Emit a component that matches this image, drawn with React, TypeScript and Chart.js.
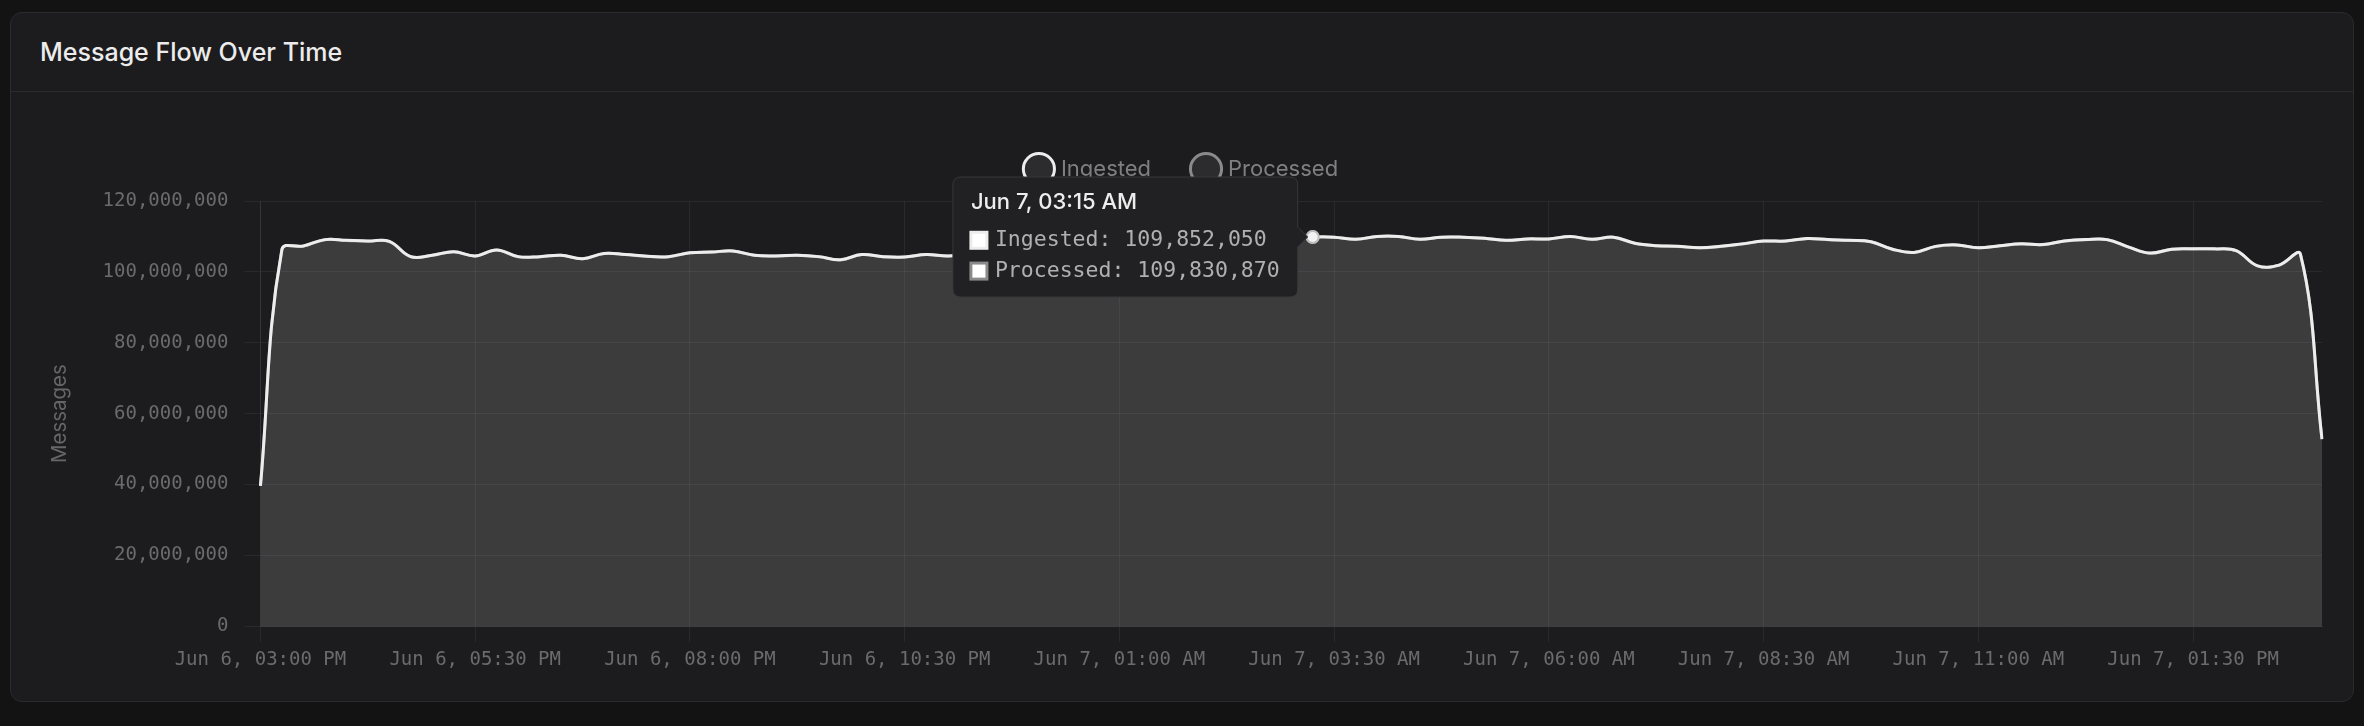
import React, { useEffect, useRef } from 'react';
import { Chart, registerables } from 'chart.js';

Chart.register(...registerables);

// ---- Data ----
const SERIES_LABELS = ['Ingested', 'Processed'];
const START_DAY = 6; // Jun 6
const START_MINUTES = 15 * 60; // 03:00 PM
const STEP_MINUTES = 15;
const X_LABEL_EVERY = 10;
const ACTIVE_INDEX = 49;
const UNIT = 1_000_000;

// values in millions of messages
const INGESTED_M = [
  39.6, 106.3, 107.3, 109.1, 108.9, 108.7, 108.6, 104.3, 104.7, 105.7,
  104.5, 106.2, 104.3, 104.3, 104.7, 103.7, 105.2, 104.9, 104.4, 104.3,
  105.4, 105.6, 105.9, 104.7, 104.5, 104.7, 104.3, 103.4, 104.9, 104.3,
  104.2, 104.9, 104.5, 105.0, 104.6, 105.3, 105.8, 106.4, 106.0, 107.1,
  107.6, 107.2, 108.3, 108.8, 108.4, 109.2, 109.5, 109.1, 109.7, 109.85205,
  109.8, 109.2, 110.0, 110.0, 109.2, 109.8, 109.8, 109.5, 108.9, 109.3,
  109.3, 110.0, 109.2, 109.8, 108.1, 107.4, 107.2, 106.8, 107.2, 107.9,
  108.7, 108.7, 109.4, 109.1, 108.9, 108.5, 106.4, 105.5, 107.2, 107.6,
  106.8, 107.4, 107.9, 107.7, 108.7, 109.1, 109.1, 107.0, 105.3, 106.4,
  106.5, 106.5, 106.0, 101.7, 101.9, 104.9, 52.8,
];

const PROCESSED_M = [
  39.58, 106.28, 107.27, 109.08, 108.88, 108.67, 108.58, 104.28, 104.68, 105.67,
  104.48, 106.18, 104.27, 104.28, 104.68, 103.68, 105.17, 104.88, 104.38, 104.27,
  105.38, 105.58, 105.87, 104.68, 104.48, 104.67, 104.28, 103.38, 104.88, 104.27,
  104.18, 104.88, 104.47, 104.98, 104.58, 105.28, 105.78, 106.38, 105.98, 107.08,
  107.58, 107.18, 108.27, 108.78, 108.38, 109.18, 109.48, 109.08, 109.68, 109.83087,
  109.78, 109.18, 109.98, 109.97, 109.18, 109.78, 109.77, 109.48, 108.88, 109.28,
  109.27, 109.98, 109.18, 109.77, 108.08, 107.38, 107.18, 106.78, 107.17, 107.88,
  108.68, 108.67, 109.38, 109.08, 108.88, 108.48, 106.38, 105.48, 107.18, 107.58,
  106.78, 107.38, 107.88, 107.68, 108.68, 109.08, 109.07, 106.98, 105.28, 106.38,
  106.48, 106.47, 105.98, 101.68, 101.88, 104.88, 52.78,
];

const Y_MIN = 0;
const Y_MAX = 120_000_000;
const Y_STEP = 20_000_000;

const pad2 = (n: number) => (n < 10 ? '0' + n : String(n));
function formatLabel(i: number): string {
  const total = START_MINUTES + i * STEP_MINUTES;
  const day = START_DAY + Math.floor(total / 1440);
  const m = total % 1440;
  const h24 = Math.floor(m / 60);
  const mm = m % 60;
  const ampm = h24 < 12 ? 'AM' : 'PM';
  const h12 = h24 % 12 === 0 ? 12 : h24 % 12;
  return `Jun ${day}, ${pad2(h12)}:${pad2(mm)} ${ampm}`;
}
const LABELS: string[] = INGESTED_M.map((_, i) => formatLabel(i));

// ---- Styles ----
const MONO = "'DejaVu Sans Mono', monospace";
const SANS = "Inter, 'Noto Sans', sans-serif";
const GRID = 'rgba(255,255,255,0.06)';

export default function App() {
  const canvasRef = useRef<HTMLCanvasElement | null>(null);

  useEffect(() => {
    const canvas = canvasRef.current;
    if (!canvas) return;

    const legendSpacer = {
      id: 'legendSpacer',
      beforeLayout(chart: any) {
        const lg = chart.legend;
        if (lg && !lg.__patched) {
          const orig = lg.fit.bind(lg);
          lg.fit = function () {
            orig();
            this.height += 11;
          };
          lg.__patched = true;
        }
      },
    };

    const chart = new Chart(canvas, {
      type: 'line',
      data: {
        labels: LABELS,
        datasets: [
          {
            label: SERIES_LABELS[0],
            data: INGESTED_M.map((v) => Math.round(v * UNIT)),
            borderColor: '#ededed',
            backgroundColor: 'rgba(255,255,255,0.075)',
            borderWidth: 3,
            fill: 'origin',
            tension: 0.4,
            pointRadius: 0,
            pointHoverRadius: 6,
            pointHoverBackgroundColor: '#f2f2f2',
            pointHoverBorderColor: '#bdbdbd',
            pointHoverBorderWidth: 2,
          },
          {
            label: SERIES_LABELS[1],
            data: PROCESSED_M.map((v) => Math.round(v * UNIT)),
            borderColor: '#8a8a8a',
            backgroundColor: 'rgba(255,255,255,0.075)',
            borderWidth: 3,
            fill: 'origin',
            tension: 0.4,
            pointRadius: 0,
            pointHoverRadius: 6,
            pointHoverBackgroundColor: '#e0e0e0',
            pointHoverBorderColor: '#8a8a8a',
            pointHoverBorderWidth: 2,
          },
        ],
      },
      options: {
        animation: false,
        responsive: true,
        maintainAspectRatio: false,
        events: [],
        interaction: { mode: 'index', intersect: false },
        layout: { padding: { left: 33, right: 31, top: 22, bottom: 24 } },
        plugins: {
          legend: {
            display: true,
            position: 'top',
            labels: {
              usePointStyle: true,
              pointStyle: 'circle',
              padding: 44,
              color: '#7f7f7f',
              font: { family: SANS, size: 22 },
            },
          },
          tooltip: {
            enabled: true,
            backgroundColor: '#212123',
            borderColor: '#38383b',
            borderWidth: 1,
            cornerRadius: 8,
            padding: { top: 12, bottom: 13, left: 18, right: 18 },
            caretSize: 10,
            caretPadding: 5,
            titleColor: '#ededed',
            titleFont: { family: SANS, size: 22, weight: '500' },
            titleMarginBottom: 12,
            bodyColor: '#b0b0b0',
            bodyFont: { family: MONO, size: 21.5 },
            bodySpacing: 5,
            boxWidth: 16,
            boxHeight: 16,
            boxPadding: 6,
            multiKeyBackground: '#ffffff',
            displayColors: true,
          },
        },
        scales: {
          x: {
            type: 'category',
            offset: false,
            grid: {
              color: (ctx: any) => (ctx.index % X_LABEL_EVERY === 0 ? GRID : 'rgba(0,0,0,0)'),
              tickColor: (ctx: any) => (ctx.index % X_LABEL_EVERY === 0 ? GRID : 'rgba(0,0,0,0)'),
              tickLength: 16,
              drawTicks: true,
            },
            border: { color: 'rgba(255,255,255,0.1)' },
            ticks: {
              autoSkip: false,
              maxRotation: 0,
              minRotation: 0,
              padding: 6,
              color: '#6b6b6b',
              font: { family: MONO, size: 19 },
              callback: (_v: any, i: number) => (i % X_LABEL_EVERY === 0 ? LABELS[i] : ''),
            },
          },
          y: {
            min: Y_MIN,
            max: Y_MAX,
            grid: { color: GRID, tickLength: 16 },
            border: { color: GRID },
            ticks: {
              stepSize: Y_STEP,
              padding: 16,
              color: '#6b6b6b',
              font: { family: MONO, size: 19 },
              callback: (v: any) => Number(v).toLocaleString('en-US'),
            },
            title: {
              display: true,
              text: 'Messages',
              color: '#666666',
              font: { family: SANS, size: 20.5 },
              padding: { top: 4, bottom: 14 },
            },
          },
        },
      } as any,
      plugins: [legendSpacer],
    });

    const els = [
      { datasetIndex: 0, index: ACTIVE_INDEX },
      { datasetIndex: 1, index: ACTIVE_INDEX },
    ];
    chart.setActiveElements(els);
    const meta = chart.getDatasetMeta(0).data[ACTIVE_INDEX] as any;
    chart.tooltip?.setActiveElements(els, { x: meta.x, y: meta.y });
    chart.update();

    return () => chart.destroy();
  }, []);

  return (
    <div style={{ padding: '4px 2px 0 2px' }}>
      <style>{`body { background: #131314; margin: 8px; }`}</style>
      <div
        style={{
          background: '#1c1c1e',
          border: '1px solid #2b2b2e',
          borderRadius: 12,
          height: 690,
          boxSizing: 'border-box',
          overflow: 'hidden',
        }}
      >
        <div
          style={{
            height: 78,
            borderBottom: '1px solid #2b2b2e',
            display: 'flex',
            alignItems: 'center',
            paddingLeft: 29,
            fontFamily: SANS,
            fontWeight: 500,
            fontSize: 25,
            color: '#ececec',
          }}
        >
          Message Flow Over Time
        </div>
        <div style={{ position: 'relative', height: 609 }}>
          <canvas ref={canvasRef} />
        </div>
      </div>
    </div>
  );
}
